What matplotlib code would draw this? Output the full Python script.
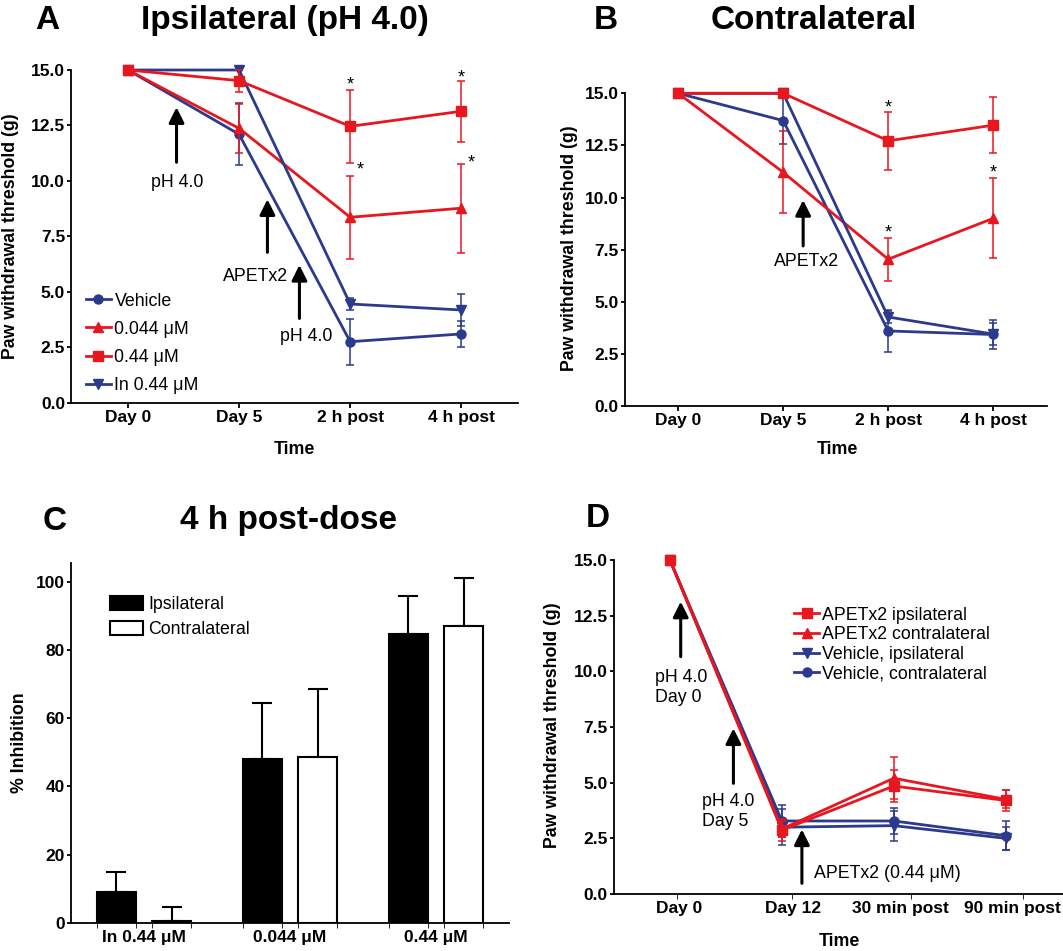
import matplotlib
matplotlib.use("Agg")
import matplotlib.pyplot as plt
from matplotlib.patches import Patch

W, H = 1063, 951
RED = "#E8171F"
BLUE = "#2B3A8C"

# ---- data ---------------------------------------------------------------
time_ab = ["Day 0", "Day 5", "2 h post", "4 h post"]

# panel A: ipsilateral paw (pH 4.0)
a_vehicle = [15.0, 12.1, 2.75, 3.1]
a_vehicle_err = [0, 1.4, 1.04, 0.6]
a_low = [15.0, 12.37, 8.36, 8.77]          # 0.044 uM
a_low_err = [0, 1.1, 1.86, 2.0]
a_high = [15.0, 14.52, 12.46, 13.14]       # 0.44 uM
a_high_err = [0, 0.5, 1.64, 1.38]
a_inact = [15.0, 15.0, 4.45, 4.18]         # In 0.44 uM
a_inact_err = [0, 0, 0.25, 0.7]

# panel B: contralateral paw
b_vehicle = [15.0, 13.69, 3.6, 3.43]
b_vehicle_err = [0, 1.1, 1.0, 0.7]
b_low = [15.0, 11.21, 7.04, 9.0]
b_low_err = [0, 1.97, 1.04, 1.92]
b_high = [15.0, 15.0, 12.72, 13.47]
b_high_err = [0, 0, 1.39, 1.35]
b_inact = [15.0, 15.0, 4.27, 3.45]
b_inact_err = [0, 0.1, 0.3, 0.52]

# panel C: % inhibition at 4 h
groups_c = ["In 0.44 μM", "0.044 μM", "0.44 μM"]
inhib_ipsi = [8.9, 47.9, 84.6]
inhib_ipsi_err = [5.9, 16.6, 11.2]
inhib_contra = [0.4, 48.6, 86.9]
inhib_contra_err = [4.3, 19.9, 14.1]

# panel D: long time course
time_d = ["Day 0", "Day 12", "30 min post", "90 min post"]
d_apetx_ipsi = [15.0, 2.87, 4.85, 4.2]
d_apetx_ipsi_err = [0, 0.48, 0.72, 0.45]
d_apetx_contra = [15.0, 2.92, 5.2, 4.25]
d_apetx_contra_err = [0, 0.35, 0.94, 0.4]
d_veh_ipsi = [15.0, 3.0, 3.07, 2.5]
d_veh_ipsi_err = [0, 0.8, 0.68, 0.52]
d_veh_contra = [15.0, 3.28, 3.28, 2.62]
d_veh_contra_err = [0, 0.72, 0.57, 0.65]

# ---- helpers ------------------------------------------------------------
plt.rcParams["font.family"] = ["Liberation Sans", "DejaVu Sans"]
fig = plt.figure(figsize=(W / 100, H / 100), dpi=100)


def fxy(x, y):
    return (x / W, 1 - y / H)


def axes_at(left, top, right, bottom):
    return fig.add_axes([left / W, 1 - bottom / H, (right - left) / W, (bottom - top) / H])


def style_axes(ax):
    for s in ["top", "right"]:
        ax.spines[s].set_visible(False)
    for s in ["left", "bottom"]:
        ax.spines[s].set_linewidth(1.3)
    ax.tick_params(width=1.3, labelsize=12.5, pad=1.5)
    ax.tick_params(axis="x", which="both", length=3.6)
    ax.tick_params(axis="y", length=3)


def threshold_axis(ax):
    yt = [0, 2.5, 5, 7.5, 10, 12.5, 15]
    ax.set_yticks(yt, [f"{v:.1f}" for v in yt], fontweight="bold")
    ax.set_ylim(0, 15)


def series(ax, x, y, err, color, marker, ms, label=None, z=3):
    ax.errorbar(x, y, yerr=err, fmt="none", ecolor=color, elinewidth=1.1,
                capsize=3.2, capthick=1.1, zorder=z - 0.5, clip_on=False)
    line, = ax.plot(x, y, color=color, lw=2.0, marker=marker, ms=ms,
                    label=label, zorder=z, clip_on=False)
    return line


def arrow(ax, x, tail, head):
    ax.annotate("", xy=(x, head), xytext=(x, tail),
                arrowprops=dict(arrowstyle="-|>,head_length=0.4,head_width=0.2",
                                color="black", lw=2.2, mutation_scale=23,
                                shrinkA=0, shrinkB=0))


def star(ax, x, y):
    ax.annotate("*", (x, y), xytext=(0, -7.6), textcoords="offset points",
                ha="center", va="baseline", fontsize=13)


def ylabel_at(ax, text, x, y):
    ax.set_ylabel(text, fontsize=12.8, fontweight="bold", va="center")
    ax.yaxis.set_label_coords(*fxy(x, y), transform=fig.transFigure)


def xlabel_at(ax, text, x, y):
    ax.set_xlabel(text, fontsize=12.8, fontweight="bold", va="center")
    ax.xaxis.set_label_coords(*fxy(x, y), transform=fig.transFigure)


def heading(letter, lx, title, tx, y):
    fig.text(*fxy(lx, y), letter, ha="center", va="baseline", fontsize=24, fontweight="bold")
    fig.text(*fxy(tx, y), title, ha="center", va="baseline", fontsize=24, fontweight="bold")


x4 = list(range(4))

# ---- A ------------------------------------------------------------------
axA = axes_at(71.3, 70, 518, 402.7)
style_axes(axA)
threshold_axis(axA)
axA.set_xlim(-0.51, 3.51)
axA.set_xticks(x4, time_ab, fontweight="bold")
hA = [series(axA, x4, a_vehicle, a_vehicle_err, BLUE, "o", 6.5, "Vehicle", 3),
      series(axA, x4, a_low, a_low_err, RED, "^", 7.5, "0.044 μM", 4),
      series(axA, x4, a_high, a_high_err, RED, "s", 6.5, "0.44 μM", 6),
      series(axA, x4, a_inact, a_inact_err, BLUE, "v", 7.5, "In 0.44 μM", 5)]
axA.legend(handles=hA, loc="upper left", bbox_to_anchor=fxy(86, 292.5),
           bbox_transform=fig.transFigure, frameon=False, borderpad=0,
           borderaxespad=0, handlelength=1.4, handletextpad=0.2,
           labelspacing=0.63, fontsize=12.8)
star(axA, 2, 14.58)
star(axA, 2.09, 10.76)
star(axA, 3, 14.92)
star(axA, 3.09, 11.06)
arrow(axA, 0.437, 10.84, 13.32)
axA.text(0.446, 9.74, "pH 4.0", ha="center", va="baseline", fontsize=12.8)
arrow(axA, 1.255, 6.78, 9.17)
axA.text(1.144, 5.49, "APETx2", ha="center", va="baseline", fontsize=12.8)
arrow(axA, 1.543, 3.80, 6.21)
axA.text(1.605, 2.80, "pH 4.0", ha="center", va="baseline", fontsize=12.8)
ylabel_at(axA, "Paw withdrawal threshold (g)", 10.3, 236)
xlabel_at(axA, "Time", 294.7, 450)
heading("A", 47.6, "Ipsilateral (pH 4.0)", 285, 29.3)

# ---- B ------------------------------------------------------------------
axB = axes_at(625.2, 93.3, 1046.7, 406)
style_axes(axB)
threshold_axis(axB)
axB.set_xlim(-0.505, 3.51)
axB.set_xticks(x4, time_ab, fontweight="bold")
series(axB, x4, b_vehicle, b_vehicle_err, BLUE, "o", 6.5, z=3)
series(axB, x4, b_low, b_low_err, RED, "^", 7.5, z=4)
series(axB, x4, b_inact, b_inact_err, BLUE, "v", 7.5, z=5)
series(axB, x4, b_high, b_high_err, RED, "s", 6.5, z=6)
star(axB, 2, 14.6)
star(axB, 3, 15.45)
star(axB, 2, 8.6)
star(axB, 3, 11.48)
arrow(axB, 1.19, 7.68, 9.88)
axB.text(1.22, 6.72, "APETx2", ha="center", va="baseline", fontsize=12.8)
ylabel_at(axB, "Paw withdrawal threshold (g)", 569, 248)
xlabel_at(axB, "Time", 837, 450)
heading("B", 605.8, "Contralateral", 813.7, 29.3)

# ---- C ------------------------------------------------------------------
axC = axes_at(71, 563.3, 509, 922.7)
style_axes(axC)
gx = [0, 1, 2]
off, bw = 0.189, 0.264
xi = [g - off for g in gx]
xc = [g + off for g in gx]
axC.bar(xi, inhib_ipsi, width=bw, color="black", edgecolor="black", lw=1.5,
        label="Ipsilateral", zorder=2)
axC.bar(xc, inhib_contra, width=bw, color="white", edgecolor="black", lw=1.5,
        label="Contralateral", zorder=2)
axC.errorbar(xi, inhib_ipsi, yerr=[[0] * 3, inhib_ipsi_err], fmt="none",
             ecolor="black", elinewidth=1.5, capsize=7.4, capthick=1.5, zorder=1.5)
axC.errorbar(xc, inhib_contra, yerr=[[0] * 3, inhib_contra_err], fmt="none",
             ecolor="black", elinewidth=1.5, capsize=7.4, capthick=1.5, zorder=1.5)
axC.set_xlim(-0.5, 2.5)
axC.set_ylim(0, 105.4)
yt = [0, 20, 40, 60, 80, 100]
axC.set_yticks(yt, [str(v) for v in yt], fontweight="bold")
axC.set_xticks(gx, groups_c, fontweight="bold")
edges = []
for g in gx:
    edges += [g - off - bw / 2, g - off + bw / 2, g + off - bw / 2, g + off + bw / 2]
axC.set_xticks(edges, minor=True)
axC.tick_params(axis="x", which="major", length=0, pad=5)
axC.legend(handles=[Patch(facecolor="black", edgecolor="black", lw=1.5),
                    Patch(facecolor="white", edgecolor="black", lw=1.5)],
           labels=["Ipsilateral", "Contralateral"], loc="upper left",
           bbox_to_anchor=fxy(109.5, 596), bbox_transform=fig.transFigure,
           frameon=False, borderpad=0, borderaxespad=0, handlelength=1.87,
           handleheight=0.79, handletextpad=0.29, labelspacing=0.47, fontsize=12.8)
ylabel_at(axC, "% Inhibition", 19.8, 743)
heading("C", 54.8, "4 h post-dose", 288, 529.5)

# ---- D ------------------------------------------------------------------
axD = axes_at(614, 560, 1063, 894)
style_axes(axD)
threshold_axis(axD)
axD.set_xlim(-0.5, 3.512)
axD.set_xticks([0.086, 1.10, 2.059, 3.062], time_d, fontweight="bold")
axD.set_xticks([0.065, 1.09, 2.158, 3.158], minor=True)
axD.tick_params(axis="x", which="major", length=0, pad=5)
hD = [series(axD, x4, d_apetx_ipsi, d_apetx_ipsi_err, RED, "s", 6.5, "APETx2 ipsilateral", 6),
      series(axD, x4, d_apetx_contra, d_apetx_contra_err, RED, "^", 7.5, "APETx2 contralateral", 5),
      series(axD, x4, d_veh_ipsi, d_veh_ipsi_err, BLUE, "v", 7.5, "Vehicle, ipsilateral", 4),
      series(axD, x4, d_veh_contra, d_veh_contra_err, BLUE, "o", 6.5, "Vehicle, contralateral", 3)]
axD.legend(handles=hD, loc="upper left", bbox_to_anchor=fxy(794.4, 606.7),
           bbox_transform=fig.transFigure, frameon=False, borderpad=0,
           borderaxespad=0, handlelength=1.4, handletextpad=0.15,
           labelspacing=0.15, fontsize=12.8)
arrow(axD, 0.096, 10.66, 13.13)
axD.text(-0.134, 9.27, "pH 4.0\nDay 0", ha="left", va="center", fontsize=12.8,
         linespacing=1.25)
arrow(axD, 0.567, 4.97, 7.44)
axD.text(0.284, 3.70, "pH 4.0\nDay 5", ha="left", va="center", fontsize=12.8,
         linespacing=1.25)
arrow(axD, 1.179, 0.48, 2.9)
axD.text(1.287, 0.93, "APETx2 (0.44 μM)", ha="left", va="center", fontsize=12.8)
ylabel_at(axD, "Paw withdrawal threshold (g)", 552.6, 725)
xlabel_at(axD, "Time", 839, 941)
fig.text(*fxy(597.5, 527), "D", ha="center", va="baseline", fontsize=24, fontweight="bold")

fig.savefig("out.png", dpi=100)
